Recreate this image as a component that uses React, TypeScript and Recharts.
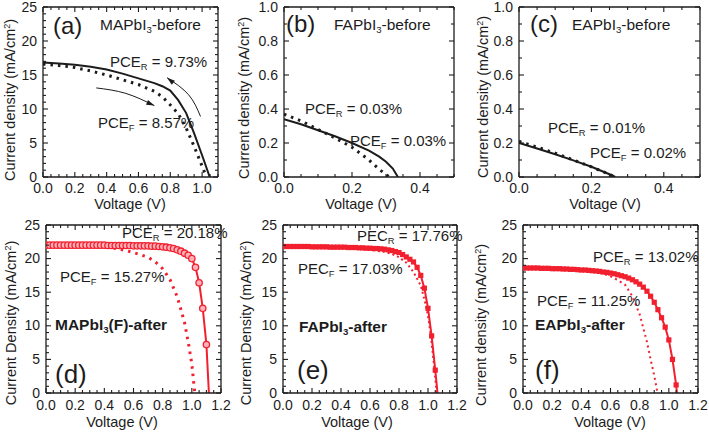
import React from 'react';
import { LineChart, Line, XAxis, YAxis, ReferenceLine } from 'recharts';

const W = 709;
const H = 435;
const INK = '#1c1c1c';
const RED = '#f2202f';
const FONT = '"Liberation Sans", Arial, Helvetica, sans-serif';

type Pt = [number, number];

// (a) MAPbI3 before  [V, mA/cm2]
const aReverse: Pt[] = [
  [0, 16.85], [0.1, 16.7], [0.2, 16.5], [0.3, 16.2], [0.4, 15.8], [0.5, 15.2], [0.6, 14.5],
  [0.7, 13.8], [0.75, 13.35], [0.8, 12.7], [0.85, 11.3], [0.9, 9.4], [0.95, 6.4], [1.0, 3.2], [1.048, 0],
];
const aForward: Pt[] = [
  [0, 16.6], [0.1, 16.4], [0.2, 16.1], [0.3, 15.6], [0.4, 15.0], [0.5, 14.3], [0.6, 13.6],
  [0.7, 12.6], [0.75, 11.8], [0.8, 10.6], [0.85, 9.3], [0.9, 7.2], [0.95, 4.5], [1.0, 1.6], [1.027, 0],
];
const aArrowReverse: Pt[] = [[0.99, 8.9], [0.915, 12.1], [0.78, 14.6]];
const aArrowForward: Pt[] = [[0.335, 13.1], [0.52, 12.3], [0.7, 10.5]];

// (b) FAPbI3 before
const bReverse: Pt[] = [
  [0, 0.34], [0.05, 0.31], [0.1, 0.275], [0.15, 0.24], [0.2, 0.2], [0.25, 0.155],
  [0.28, 0.12], [0.3, 0.09], [0.32, 0.05], [0.335, 0],
];
const bForward: Pt[] = [
  [0, 0.37], [0.05, 0.33], [0.1, 0.28], [0.15, 0.23], [0.2, 0.175], [0.25, 0.1], [0.28, 0.045], [0.31, 0],
];

// (c) EAPbI3 before
const cReverse: Pt[] = [[0, 0.2], [0.05, 0.168], [0.1, 0.134], [0.15, 0.098], [0.2, 0.06], [0.25, 0.016], [0.266, 0]];
const cForward: Pt[] = [[0, 0.21], [0.05, 0.176], [0.1, 0.14], [0.15, 0.1], [0.2, 0.06], [0.25, 0.015], [0.264, 0]];

// (d) MAPbI3(F) after
const dReverse: Pt[] = [
  [0, 22.0], [0.025, 22.0], [0.05, 22.0], [0.075, 22.0], [0.1, 22.0], [0.125, 22.0], [0.15, 22.0],
  [0.175, 22.0], [0.2, 22.0], [0.225, 22.0], [0.25, 22.0], [0.275, 22.0], [0.3, 22.0], [0.325, 22.0],
  [0.35, 22.0], [0.375, 22.0], [0.4, 22.0], [0.425, 21.95], [0.45, 21.95], [0.475, 21.95], [0.5, 21.95],
  [0.525, 21.95], [0.55, 21.95], [0.575, 21.95], [0.6, 21.9], [0.625, 21.9], [0.65, 21.9], [0.675, 21.9],
  [0.7, 21.9], [0.725, 21.85], [0.75, 21.85], [0.775, 21.8], [0.8, 21.75], [0.825, 21.7], [0.85, 21.6],
  [0.875, 21.5], [0.9, 21.3], [0.925, 21.1], [0.95, 20.8], [0.975, 20.5], [1.0, 20.0], [1.025, 18.7],
  [1.05, 16.4], [1.075, 12.6], [1.1, 7.2], [1.125, -3.4],
];
const dForward: Pt[] = [
  [0, 22.0], [0.1, 22.0], [0.2, 21.95], [0.3, 21.9], [0.4, 21.75], [0.5, 21.45], [0.6, 20.9],
  [0.7, 20.2], [0.75, 19.5], [0.8, 18.5], [0.85, 16.9], [0.9, 14.3], [0.95, 10.5], [0.98, 7.0], [1.0, 4.3], [1.02, 0],
];

// (e) FAPbI3 after
const eReverse: Pt[] = [
  [0, 21.8], [0.025, 21.8], [0.05, 21.8], [0.075, 21.8], [0.1, 21.8], [0.125, 21.8], [0.15, 21.8],
  [0.175, 21.8], [0.2, 21.75], [0.225, 21.75], [0.25, 21.75], [0.275, 21.75], [0.3, 21.75], [0.325, 21.7],
  [0.35, 21.7], [0.375, 21.7], [0.4, 21.7], [0.425, 21.7], [0.45, 21.65], [0.475, 21.65], [0.5, 21.65],
  [0.525, 21.6], [0.55, 21.6], [0.575, 21.55], [0.6, 21.55], [0.625, 21.5], [0.65, 21.5], [0.675, 21.45],
  [0.7, 21.4], [0.725, 21.3], [0.75, 21.2], [0.775, 21.05], [0.8, 20.9], [0.825, 20.6], [0.85, 20.25],
  [0.875, 19.9], [0.9, 19.5], [0.925, 18.7], [0.95, 17.5], [0.975, 15.6], [1.0, 12.6], [1.025, 8.5],
  [1.05, 3.4], [1.075, -2.0],
];
const eForward: Pt[] = [
  [0, 21.8], [0.2, 21.7], [0.4, 21.6], [0.5, 21.5], [0.6, 21.3], [0.7, 21.0], [0.75, 20.7], [0.8, 20.2],
  [0.85, 19.4], [0.9, 18.0], [0.95, 16.0], [0.98, 13.5], [1.0, 11.5], [1.02, 8.5], [1.04, 4.5], [1.06, 0],
];

// (f) EAPbI3 after
const fReverse: Pt[] = [
  [0, 18.6], [0.025, 18.6], [0.05, 18.6], [0.075, 18.6], [0.1, 18.6], [0.125, 18.55], [0.15, 18.55],
  [0.175, 18.55], [0.2, 18.5], [0.225, 18.5], [0.25, 18.5], [0.275, 18.45], [0.3, 18.45], [0.325, 18.4],
  [0.35, 18.4], [0.375, 18.35], [0.4, 18.3], [0.425, 18.3], [0.45, 18.25], [0.475, 18.2], [0.5, 18.15],
  [0.525, 18.1], [0.55, 18.0], [0.575, 17.95], [0.6, 17.85], [0.625, 17.75], [0.65, 17.6], [0.675, 17.45],
  [0.7, 17.3], [0.725, 17.1], [0.75, 16.85], [0.775, 16.55], [0.8, 16.2], [0.825, 15.75], [0.85, 15.15],
  [0.875, 14.4], [0.9, 13.5], [0.925, 12.4], [0.95, 11.2], [0.975, 9.8], [1.0, 7.9], [1.025, 5.0],
  [1.05, 1.2], [1.075, -4.0],
];
const fForward: Pt[] = [
  [0, 18.6], [0.1, 18.55], [0.2, 18.5], [0.3, 18.4], [0.4, 18.25], [0.5, 18.0], [0.55, 17.75], [0.6, 17.35],
  [0.65, 16.8], [0.7, 16.1], [0.75, 14.4], [0.8, 11.7], [0.85, 7.6], [0.875, 5.0], [0.9, 2.6], [0.922, 0],
];

// tick labels
const xMajorBefore = [0, 0.2, 0.4, 0.6, 0.8, 1.0];
const xMajorLow = [0, 0.2, 0.4];
const xMajorAfter = [0, 0.2, 0.4, 0.6, 0.8, 1.0, 1.2];
const yMajorJ = [0, 5, 10, 15, 20, 25];
const yMajorLow = [0, 0.2, 0.4, 0.6, 0.8, 1.0];

type Marker = 'none' | 'circle' | 'square' | 'arrow';
interface Series {
  data: Pt[];
  color: string;
  width: number;
  dash?: string;
  marker?: Marker;
  curve?: 'linear' | 'natural';
}
interface PanelCfg {
  plot: { x0: number; x1: number; y0: number; y1: number };
  xMax: number; xMinor: number; xMajor: number[]; xDigits: number;
  yMax: number; yMinor: number; yMajor: number[]; yDigits: number;
  labelDy: number;
  series: Series[];
}

const steps = (max: number, step: number) => {
  const out: number[] = [];
  for (let i = 0; i * step <= max + 1e-9; i++) out.push(+(i * step).toFixed(4));
  return out;
};
const isMajor = (v: number, majors: number[]) => majors.some((m) => Math.abs(m - v) < 1e-6);
const toRows = (d: Pt[]) => d.map(([v, j]) => ({ v, j }));

const XTick = (props: any) => {
  const { x, payload, cfg } = props;
  const { plot } = cfg as PanelCfg;
  const major = isMajor(payload.value, cfg.xMajor);
  const len = major ? 5 : 3;
  return (
    <g>
      <line x1={x} x2={x} y1={plot.y1} y2={plot.y1 - len} stroke={INK} strokeWidth={1.1} />
      <line x1={x} x2={x} y1={plot.y0} y2={plot.y0 + len} stroke={INK} strokeWidth={1.1} />
      {major && (
        <text x={x} y={plot.y1 + cfg.labelDy} textAnchor="middle" fontSize={14} fill={INK} fontFamily={FONT}>
          {payload.value.toFixed(cfg.xDigits)}
        </text>
      )}
    </g>
  );
};

const YTick = (props: any) => {
  const { y, payload, cfg } = props;
  const { plot } = cfg as PanelCfg;
  const major = isMajor(payload.value, cfg.yMajor);
  const len = major ? 5 : 3;
  return (
    <g>
      <line x1={plot.x0} x2={plot.x0 + len} y1={y} y2={y} stroke={INK} strokeWidth={1.1} />
      <line x1={plot.x1} x2={plot.x1 - len} y1={y} y2={y} stroke={INK} strokeWidth={1.1} />
      {major && (
        <text x={plot.x0 - 6} y={y + 4.5} textAnchor="end" fontSize={14} fill={INK} fontFamily={FONT}>
          {payload.value.toFixed(cfg.yDigits)}
        </text>
      )}
    </g>
  );
};

const Circle = (color: string) => (p: any) => (
  <circle key={`c${p.index}`} cx={p.cx} cy={p.cy} r={3.2} fill="#ffb0b8" stroke={color} strokeWidth={1.3} />
);
const Square = (color: string) => (p: any) => (
  <rect key={`s${p.index}`} x={p.cx - 2.6} y={p.cy - 2.6} width={5.2} height={5.2} fill={color} />
);
const Arrow = (color: string) => (p: any) => {
  const { cx, cy, index, points } = p;
  if (!points || index !== points.length - 1) return <g key={`a${index}`} />;
  const prev = points[index - 1];
  const ang = Math.atan2(cy - prev.y, cx - prev.x);
  const L = 8;
  const hw = 2.6;
  const bx = cx - L * Math.cos(ang);
  const by = cy - L * Math.sin(ang);
  const nx = -Math.sin(ang) * hw;
  const ny = Math.cos(ang) * hw;
  return (
    <polygon
      key={`a${index}`}
      points={`${cx},${cy} ${bx + nx},${by + ny} ${bx - nx},${by - ny}`}
      fill={color}
    />
  );
};

const Panel = ({ cfg }: { cfg: PanelCfg }) => {
  const { plot } = cfg;
  // axes take 1px each, so the margins stop 1px short of the plot box
  const margin = { left: plot.x0 - 1, top: plot.y0, right: W - plot.x1, bottom: H - plot.y1 - 1 };
  return (
    <div style={{ position: 'absolute', left: 0, top: 0, width: W, height: H }}>
      <LineChart width={W} height={H} margin={margin}>
        <XAxis
          xAxisId="x"
          type="number"
          dataKey="v"
          domain={[0, cfg.xMax]}
          allowDataOverflow
          ticks={steps(cfg.xMax, cfg.xMinor)}
          interval={0}
          height={1}
          tickLine={false}
          axisLine={{ stroke: INK, strokeWidth: 1.3 }}
          tick={(p: any) => <XTick {...p} cfg={cfg} />}
        />
        <YAxis
          yAxisId="y"
          type="number"
          dataKey="j"
          domain={[0, cfg.yMax]}
          allowDataOverflow
          ticks={steps(cfg.yMax, cfg.yMinor)}
          interval={0}
          width={1}
          tickLine={false}
          axisLine={{ stroke: INK, strokeWidth: 1.3 }}
          tick={(p: any) => <YTick {...p} cfg={cfg} />}
        />
        <ReferenceLine xAxisId="x" yAxisId="y" y={cfg.yMax} stroke={INK} strokeWidth={1.3} />
        <ReferenceLine xAxisId="x" yAxisId="y" x={cfg.xMax} stroke={INK} strokeWidth={1.3} />
        {cfg.series.map((s, i) => {
          let dot: any = false;
          if (s.marker === 'circle') dot = Circle(s.color);
          if (s.marker === 'square') dot = Square(s.color);
          if (s.marker === 'arrow') dot = Arrow(s.color);
          return (
            <Line
              key={i}
              xAxisId="x"
              yAxisId="y"
              data={toRows(s.data)}
              dataKey="j"
              type={s.curve || 'linear'}
              stroke={s.color}
              strokeWidth={s.width}
              strokeDasharray={s.dash}
              dot={dot}
              activeDot={false}
              isAnimationActive={false}
            />
          );
        })}
      </LineChart>
    </div>
  );
};

const Sub = ({ children }: { children: React.ReactNode }) => (
  <span style={{ fontSize: '0.62em', verticalAlign: '-0.35em' }}>{children}</span>
);
const Sup = ({ children }: { children: React.ReactNode }) => (
  <span style={{ fontSize: '0.62em', verticalAlign: '0.55em' }}>{children}</span>
);

const Note = ({ x, cy, size, bold, children }: { x: number; cy: number; size: number; bold?: boolean; children: React.ReactNode }) => (
  <div
    style={{
      position: 'absolute', left: x, top: cy - size / 2, fontSize: size, lineHeight: 1,
      fontWeight: bold ? 700 : 400, whiteSpace: 'nowrap', color: INK,
    }}
  >
    {children}
  </div>
);

const YTitle = ({ cx, cy, word }: { cx: number; cy: number; word: string }) => (
  <div
    style={{
      position: 'absolute', left: cx, top: cy, fontSize: 14.5, lineHeight: 1, whiteSpace: 'nowrap',
      transform: 'translate(-50%, -50%) rotate(-90deg)', color: INK,
    }}
  >
    Current {word} (mA/cm<Sup>2</Sup>)
  </div>
);

const XTitle = ({ cx, cy }: { cx: number; cy: number }) => (
  <div
    style={{
      position: 'absolute', left: cx, top: cy, fontSize: 14.5, lineHeight: 1, whiteSpace: 'nowrap',
      transform: 'translate(-50%, -50%)', color: INK,
    }}
  >
    Voltage (V)
  </div>
);

const panels: PanelCfg[] = [
  {
    plot: { x0: 43, x1: 218, y0: 7, y1: 177 },
    xMax: 1.1, xMinor: 0.05, xMajor: xMajorBefore, xDigits: 1,
    yMax: 25, yMinor: 1, yMajor: yMajorJ, yDigits: 0, labelDy: 16,
    series: [
      { data: aReverse, color: INK, width: 2 },
      { data: aForward, color: INK, width: 3, dash: '2.5 5' },
      { data: aArrowReverse, color: INK, width: 1, marker: 'arrow', curve: 'natural' },
      { data: aArrowForward, color: INK, width: 1, marker: 'arrow', curve: 'natural' },
    ],
  },
  {
    plot: { x0: 284, x1: 454, y0: 7, y1: 177 },
    xMax: 0.5, xMinor: 0.05, xMajor: xMajorLow, xDigits: 1,
    yMax: 1, yMinor: 0.1, yMajor: yMajorLow, yDigits: 1, labelDy: 16,
    series: [
      { data: bReverse, color: INK, width: 2 },
      { data: bForward, color: INK, width: 3, dash: '2.5 5' },
    ],
  },
  {
    plot: { x0: 519, x1: 700, y0: 7, y1: 177 },
    xMax: 0.5, xMinor: 0.05, xMajor: xMajorLow, xDigits: 1,
    yMax: 1, yMinor: 0.1, yMajor: yMajorLow, yDigits: 1, labelDy: 16,
    series: [
      { data: cReverse, color: INK, width: 2 },
      { data: cForward, color: INK, width: 3, dash: '2.5 5' },
    ],
  },
  {
    plot: { x0: 46, x1: 221, y0: 225, y1: 393 },
    xMax: 1.2, xMinor: 0.05, xMajor: xMajorAfter, xDigits: 1,
    yMax: 25, yMinor: 1, yMajor: yMajorJ, yDigits: 0, labelDy: 17,
    series: [
      { data: dForward, color: RED, width: 3, dash: '2.5 5' },
      { data: dReverse, color: RED, width: 2, marker: 'circle' },
    ],
  },
  {
    plot: { x0: 283, x1: 457, y0: 225, y1: 393 },
    xMax: 1.2, xMinor: 0.05, xMajor: xMajorAfter, xDigits: 1,
    yMax: 25, yMinor: 1, yMajor: yMajorJ, yDigits: 0, labelDy: 17,
    series: [
      { data: eForward, color: RED, width: 2, dash: '2 3' },
      { data: eReverse, color: RED, width: 2, marker: 'square' },
    ],
  },
  {
    plot: { x0: 523, x1: 698, y0: 225, y1: 393 },
    xMax: 1.2, xMinor: 0.05, xMajor: xMajorAfter, xDigits: 1,
    yMax: 25, yMinor: 1, yMajor: yMajorJ, yDigits: 0, labelDy: 17,
    series: [
      { data: fForward, color: RED, width: 2, dash: '2 3.5' },
      { data: fReverse, color: RED, width: 2, marker: 'square' },
    ],
  },
];

export default function App() {
  return (
    <div
      style={{
        position: 'absolute', left: 0, top: 0, width: W, height: H, background: '#fff',
        overflow: 'hidden', fontFamily: FONT, color: INK,
      }}
    >
      {panels.map((p, i) => (
        <Panel key={i} cfg={p} />
      ))}

      <YTitle cx={10} cy={100} word="density" />
      <YTitle cx={244} cy={98} word="density" />
      <YTitle cx={483} cy={97} word="density" />
      <YTitle cx={11} cy={323} word="Density" />
      <YTitle cx={246} cy={323} word="Density" />
      <YTitle cx={481} cy={325} word="density" />

      <XTitle cx={130} cy={204} />
      <XTitle cx={361} cy={204} />
      <XTitle cx={605} cy={204} />
      <XTitle cx={122} cy={422} />
      <XTitle cx={357} cy={422} />
      <XTitle cx={610} cy={422} />

      {/* (a) */}
      <Note x={53} cy={26} size={24}>(a)</Note>
      <Note x={100} cy={25} size={15.5}>MAPbI<Sub>3</Sub>-before</Note>
      <Note x={110} cy={61} size={15}>PCE<Sub>R</Sub> = 9.73%</Note>
      <Note x={98} cy={122} size={15}>PCE<Sub>F</Sub> = 8.57%</Note>

      {/* (b) */}
      <Note x={286} cy={24} size={24}>(b)</Note>
      <Note x={334} cy={25} size={15.5}>FAPbI<Sub>3</Sub>-before</Note>
      <Note x={305} cy={108} size={15}>PCE<Sub>R</Sub> = 0.03%</Note>
      <Note x={350} cy={140} size={15}>PCE<Sub>F</Sub> = 0.03%</Note>

      {/* (c) */}
      <Note x={530} cy={24} size={24}>(c)</Note>
      <Note x={572} cy={25} size={15.5}>EAPbI<Sub>3</Sub>-before</Note>
      <Note x={548} cy={127} size={15}>PCE<Sub>R</Sub> = 0.01%</Note>
      <Note x={590} cy={152} size={15}>PCE<Sub>F</Sub> = 0.02%</Note>

      {/* (d) */}
      <Note x={122} cy={232} size={15}>PCE<Sub>R</Sub> = 20.18%</Note>
      <Note x={60} cy={276} size={15}>PCE<Sub>F</Sub> = 15.27%</Note>
      <Note x={55} cy={325} size={15.5} bold>MAPbI<Sub>3</Sub>(F)-after</Note>
      <Note x={55} cy={374} size={26}>(d)</Note>

      {/* (e) */}
      <Note x={357} cy={235} size={15}>PEC<Sub>R</Sub> = 17.76%</Note>
      <Note x={298} cy={268} size={15}>PEC<Sub>F</Sub> = 17.03%</Note>
      <Note x={299} cy={327} size={15.5} bold>FAPbI<Sub>3</Sub>-after</Note>
      <Note x={297} cy={370} size={26}>(e)</Note>

      {/* (f) */}
      <Note x={593} cy={256} size={15}>PCE<Sub>R</Sub> = 13.02%</Note>
      <Note x={537} cy={300} size={15}>PCE<Sub>F</Sub> = 11.25%</Note>
      <Note x={535} cy={325} size={15.5} bold>EAPbI<Sub>3</Sub>-after</Note>
      <Note x={535} cy={370} size={26}>(f)</Note>
    </div>
  );
}
